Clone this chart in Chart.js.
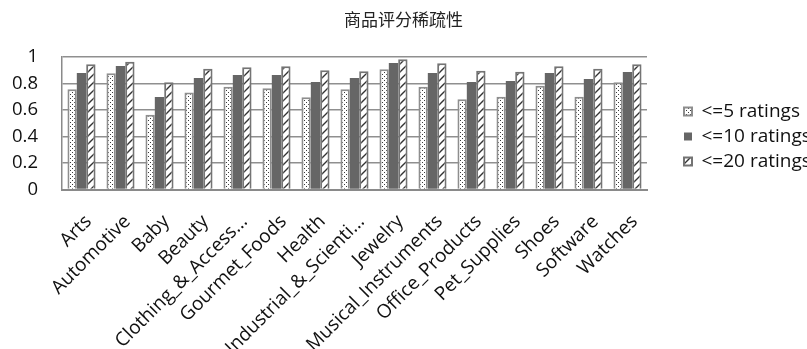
<!DOCTYPE html>
<html>
<head>
<meta charset="utf-8">
<script src="https://cdn.jsdelivr.net/npm/chart.js@4/dist/chart.umd.min.js"></script>
<style>
  html, body { margin: 0; padding: 0; background: #ffffff; }
  #wrap { width: 807px; height: 349px; position: relative; }
</style>
</head>
<body>
<div id="wrap"><canvas id="c"></canvas></div>
<script>
// ---- data ----
const categories = ['Arts', 'Automotive', 'Baby', 'Beauty', 'Clothing_&_Access...', 'Gourmet_Foods', 'Health',
  'Industrial_&_Scienti...', 'Jewelry', 'Musical_Instruments', 'Office_Products', 'Pet_Supplies', 'Shoes',
  'Software', 'Watches'];
const seriesNames = ['<=5 ratings', '<=10 ratings', '<=20 ratings'];
const le5Ratings  = [0.756, 0.877, 0.565, 0.733, 0.776, 0.764, 0.696, 0.756, 0.907, 0.776, 0.681, 0.700, 0.783, 0.700, 0.809];
const le10Ratings = [0.879, 0.932, 0.698, 0.842, 0.864, 0.864, 0.811, 0.842, 0.955, 0.879, 0.811, 0.819, 0.879, 0.834, 0.887];
const le20Ratings = [0.945, 0.965, 0.809, 0.912, 0.922, 0.930, 0.900, 0.892, 0.983, 0.952, 0.897, 0.889, 0.930, 0.912, 0.945];
const yTickValues = [0, 0.2, 0.4, 0.6, 0.8, 1];
const chartTitle = '商品评分稀疏性';

// ---- styles ----
function dotPattern() {
  const t = document.createElement('canvas'); t.width = 4; t.height = 4;
  const g = t.getContext('2d');
  g.fillStyle = '#ffffff'; g.fillRect(0, 0, 4, 4);
  g.fillStyle = '#3a3a3a'; g.fillRect(0, 0, 1, 1); g.fillRect(2, 2, 1, 1);
  return g.createPattern(t, 'repeat');
}
function hatchPattern() {
  const t = document.createElement('canvas'); t.width = 8; t.height = 8;
  const g = t.getContext('2d');
  g.fillStyle = '#ffffff'; g.fillRect(0, 0, 8, 8);
  g.strokeStyle = '#333333'; g.lineWidth = 1.4;
  g.beginPath();
  g.moveTo(-1, 9); g.lineTo(9, -1);
  g.moveTo(-1, 1); g.lineTo(1, -1);
  g.moveTo(7, 9); g.lineTo(9, 7);
  g.stroke();
  return g.createPattern(t, 'repeat');
}
const FONT = 'Open Sans';
const LEGEND_X = 684, LEGEND_Y = 102, LEGEND_W = 160;

const legendPlacer = {
  id: 'legendPlacer',
  beforeLayout(chart) {
    const lg = chart.legend;
    if (lg && !lg._wrappedFit) {
      const fit = lg.fit;
      lg.fit = function () { fit.call(this); this.width = LEGEND_W; };
      lg._wrappedFit = true;
    }
  },
  afterLayout(chart) {
    const lg = chart.legend;
    const pad = lg.options.labels.padding;
    lg.left = LEGEND_X - pad; lg.right = lg.left + lg.width;
    lg.top = LEGEND_Y - pad; lg.bottom = chart.height; lg.height = lg.bottom - lg.top;
  }
};

new Chart(document.getElementById('c'), {
  type: 'bar',
  data: {
    labels: categories,
    datasets: [
      { label: seriesNames[0], data: le5Ratings, backgroundColor: dotPattern(), borderColor: '#8e8e8e', borderWidth: 2 },
      { label: seriesNames[1], data: le10Ratings, backgroundColor: '#666666', borderColor: '#666666', borderWidth: 0 },
      { label: seriesNames[2], data: le20Ratings, backgroundColor: hatchPattern(), borderColor: '#747474', borderWidth: 2 }
    ]
  },
  plugins: [legendPlacer],
  options: {
    responsive: true,
    maintainAspectRatio: false,
    animation: false,
    layout: { padding: 0 },
    datasets: { bar: { categoryPercentage: 0.72, barPercentage: 1.0 } },
    plugins: {
      title: {
        display: true, text: chartTitle, color: '#222',
        font: { family: 'Noto Sans CJK SC', size: 17, weight: 'normal', lineHeight: 1.2 },
        padding: { top: 9, bottom: 27.6 }
      },
      legend: {
        position: 'right', align: 'start',
        labels: {
          boxWidth: 8, boxHeight: 8, padding: 6, color: '#111',
          font: { family: FONT, size: 19 }
        }
      },
      tooltip: { enabled: false }
    },
    scales: {
      x: {
        grid: { display: false, drawTicks: false },
        border: { display: true, color: '#8a8a8a', width: 2 },
        ticks: {
          autoSkip: false, minRotation: 45, maxRotation: 45, padding: 21, labelOffset: 7,
          color: '#111', font: { family: FONT, size: 19 }
        },
        afterFit(s) { s.height = 159.5; }
      },
      y: {
        min: 0, max: 1,
        grid: { color: '#8f8f8f', lineWidth: 1.5, drawTicks: false },
        border: { display: true, color: '#8a8a8a', width: 1.5 },
        afterBuildTicks(s) { s.ticks = yTickValues.map(v => ({ value: v })); },
        ticks: {
          padding: 24, color: '#111', font: { family: FONT, size: 18.5 },
          callback: v => String(v)
        },
        afterFit(s) { s.width = 62; }
      }
    }
  }
});
</script>
</body>
</html>
